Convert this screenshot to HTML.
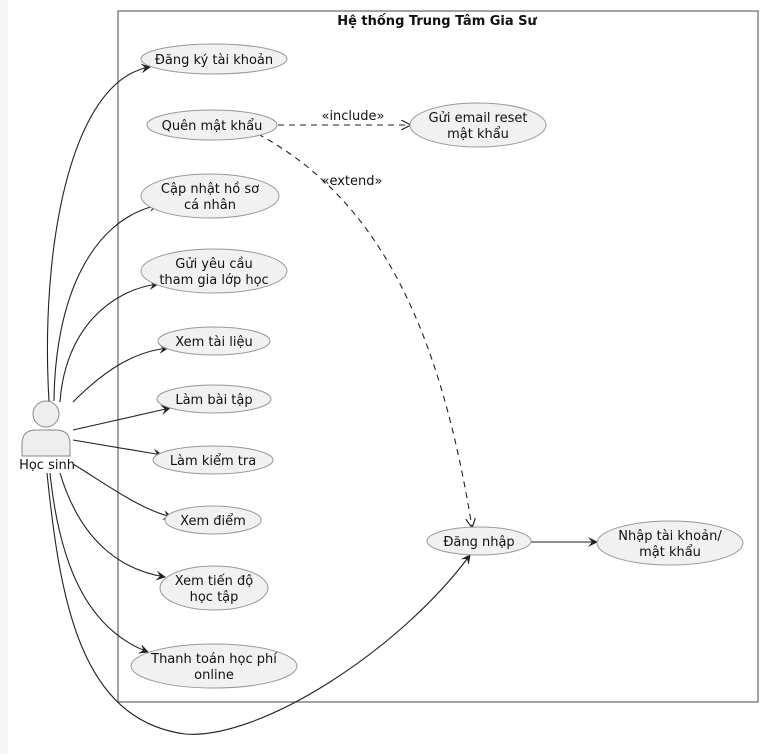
<!DOCTYPE html>
<html><head><meta charset="utf-8"><style>
html,body{margin:0;padding:0;background:#fff;}
svg{display:block;}
text{font-family:"DejaVu Sans","Liberation Sans",sans-serif;font-size:13px;fill:#111;}
.e{fill:#f1f1f1;stroke:#999;stroke-width:1;}
.l{fill:none;stroke:#222;stroke-width:1.1;}
.d{fill:none;stroke:#222;stroke-width:1.1;stroke-dasharray:6,5;}
</style></head><body>
<svg width="768" height="754" viewBox="0 0 768 754" xmlns="http://www.w3.org/2000/svg">
<defs>
<marker id="a" viewBox="0 0 10 10" refX="9" refY="5" markerWidth="10" markerHeight="10" orient="auto" markerUnits="userSpaceOnUse">
<path d="M0,0 L10,5 L0,10 L4,5 Z" fill="#222"/></marker>
<marker id="o" viewBox="0 0 10 10" refX="9" refY="5" markerWidth="10" markerHeight="10" orient="auto" markerUnits="userSpaceOnUse">
<path d="M0,0 L10,5 L0,10" fill="none" stroke="#222" stroke-width="1.2"/></marker>
</defs>
<rect x="0" y="0" width="8" height="754" fill="#f7f7f7"/>
<rect x="118" y="11" width="640" height="691" fill="none" stroke="#666" stroke-width="1.2"/>
<text x="437" y="25" text-anchor="middle" font-weight="bold" style="font-size:13px">Hệ thống Trung Tâm Gia Sư</text>

<circle cx="46" cy="414" r="13" fill="#eee" stroke="#888"/>
<path d="M22,456 L22,444 Q22,430 36,430 L56,430 Q70,430 70,444 L70,456 Z" fill="#eee" stroke="#888"/>
<text x="47" y="469" text-anchor="middle">Học sinh</text>

<path class="l" marker-end="url(#a)" d="M49,401 C40,250 70,80 150,67"/>
<path class="l" marker-end="url(#a)" d="M54,401 C55,300 90,220 158,205"/>
<path class="l" marker-end="url(#a)" d="M60,402 C65,330 110,290 158,284"/>
<path class="l" marker-end="url(#a)" d="M73,402 C100,375 130,352 168,348"/>
<path class="l" marker-end="url(#a)" d="M73,430 L170,408"/>
<path class="l" marker-end="url(#a)" d="M73,440 L162,455"/>
<path class="l" marker-end="url(#a)" d="M73,464 C100,480 140,510 172,517"/>
<path class="l" marker-end="url(#a)" d="M60,473 C80,540 120,570 165,577"/>
<path class="l" marker-end="url(#a)" d="M50,473 C60,570 90,630 148,652"/>
<path class="l" marker-end="url(#a)" d="M47,473 C60,600 80,720 185,734 C260,740 400,650 470,555"/>

<path class="d" marker-end="url(#o)" d="M278,125 L410,125"/>
<text x="353" y="120" text-anchor="middle">«include»</text>
<path class="d" marker-end="url(#o)" d="M258,134 C380,200 440,330 472,527"/>
<text x="352" y="185" text-anchor="middle">«extend»</text>
<path class="l" marker-end="url(#a)" d="M531,542 L597,542"/>

<ellipse class="e" cx="214" cy="59" rx="73" ry="15"/><text x="214" y="64" text-anchor="middle">Đăng ký tài khoản</text>
<ellipse class="e" cx="212" cy="125" rx="65" ry="15"/><text x="212" y="130" text-anchor="middle">Quên mật khẩu</text>
<ellipse class="e" cx="478" cy="125" rx="68" ry="22"/><text x="478" y="122" text-anchor="middle">Gửi email reset</text><text x="478" y="138" text-anchor="middle">mật khẩu</text>
<ellipse class="e" cx="210" cy="196" rx="69" ry="22"/><text x="210" y="193" text-anchor="middle">Cập nhật hồ sơ</text><text x="210" y="209" text-anchor="middle">cá nhân</text>
<ellipse class="e" cx="214" cy="271" rx="73" ry="22"/><text x="214" y="268" text-anchor="middle">Gửi yêu cầu</text><text x="214" y="284" text-anchor="middle">tham gia lớp học</text>
<ellipse class="e" cx="214" cy="341" rx="56" ry="14"/><text x="214" y="346" text-anchor="middle">Xem tài liệu</text>
<ellipse class="e" cx="214" cy="399" rx="57" ry="14"/><text x="214" y="404" text-anchor="middle">Làm bài tập</text>
<ellipse class="e" cx="213" cy="460" rx="60" ry="14"/><text x="213" y="465" text-anchor="middle">Làm kiểm tra</text>
<ellipse class="e" cx="213" cy="520" rx="48" ry="14"/><text x="213" y="525" text-anchor="middle">Xem điểm</text>
<ellipse class="e" cx="214" cy="588" rx="54" ry="22"/><text x="214" y="585" text-anchor="middle">Xem tiến độ</text><text x="214" y="601" text-anchor="middle">học tập</text>
<ellipse class="e" cx="214" cy="666" rx="83" ry="22"/><text x="214" y="663" text-anchor="middle">Thanh toán học phí</text><text x="214" y="679" text-anchor="middle">online</text>
<ellipse class="e" cx="479" cy="541" rx="52" ry="14"/><text x="479" y="546" text-anchor="middle">Đăng nhập</text>
<ellipse class="e" cx="670" cy="543" rx="73" ry="22"/><text x="670" y="540" text-anchor="middle">Nhập tài khoản/</text><text x="670" y="556" text-anchor="middle">mật khẩu</text>
</svg>
</body></html>
